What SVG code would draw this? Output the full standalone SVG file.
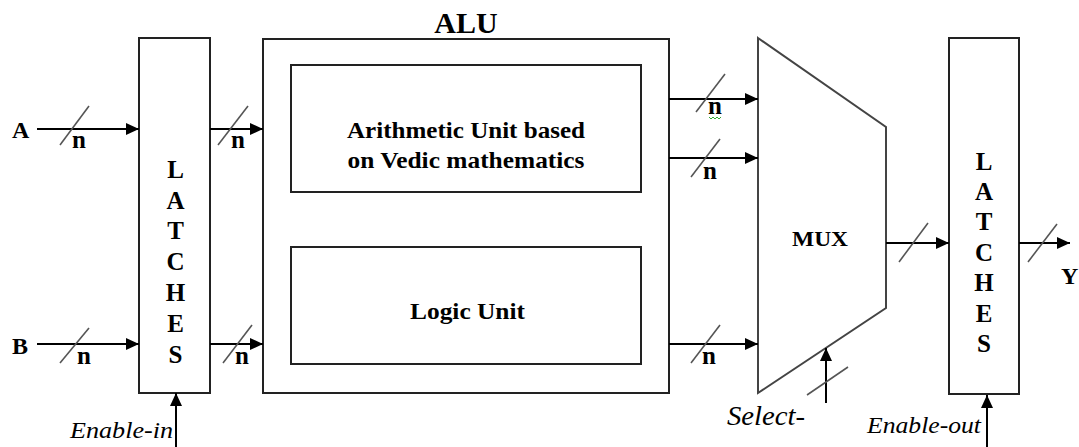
<svg xmlns="http://www.w3.org/2000/svg" width="1079" height="447" viewBox="0 0 1079 447">
<defs>
<marker id="ah" markerUnits="userSpaceOnUse" markerWidth="14" markerHeight="12" refX="13" refY="6" orient="auto">
<path d="M0,0 L13,6 L0,12 z" fill="#000"/>
</marker>
<style>
.box{fill:#fff;stroke:#222;stroke-width:2}
.mux{fill:#fff;stroke:#444;stroke-width:2}
.wire{stroke:#000;stroke-width:2;fill:none}
.sl{stroke:#555;stroke-width:1.6;fill:none}
.b{font-family:"Liberation Serif","Times New Roman",Times,serif;font-weight:bold;fill:#000}
.lt{font-family:"Liberation Serif","Times New Roman",Times,serif;font-weight:bold;font-size:25px;text-anchor:middle;fill:#000}
.n{font-family:"Liberation Serif","Times New Roman",Times,serif;font-weight:bold;font-size:25px;fill:#000}
.it{font-family:"Liberation Serif","Times New Roman",Times,serif;font-style:italic;fill:#000}
</style>
</defs>
<rect width="1079" height="447" fill="#fff"/>

<g id="latch-in">
<rect class="box" x="139" y="38" width="71" height="355"/>
<text class="lt" x="175.5" y="178">L</text>
<text class="lt" x="175.5" y="209">A</text>
<text class="lt" x="175.5" y="239">T</text>
<text class="lt" x="175.5" y="270">C</text>
<text class="lt" x="175.5" y="301">H</text>
<text class="lt" x="175.5" y="332">E</text>
<text class="lt" x="175.5" y="363">S</text>
</g>

<g id="alu">
<rect class="box" x="263" y="39" width="406" height="354"/>
<text class="b" x="466" y="33" font-size="30" text-anchor="middle">ALU</text>
</g>

<g id="arith">
<rect class="box" x="291" y="65" width="350" height="127"/>
<text class="b" x="466" y="138" font-size="23" text-anchor="middle" textLength="238" lengthAdjust="spacingAndGlyphs">Arithmetic Unit based</text>
<text class="b" x="466" y="168" font-size="23" text-anchor="middle" textLength="237" lengthAdjust="spacingAndGlyphs">on Vedic mathematics</text>
</g>

<g id="logic">
<rect class="box" x="291" y="247" width="350" height="117"/>
<text class="b" x="467.5" y="319" font-size="23" text-anchor="middle" textLength="115" lengthAdjust="spacingAndGlyphs">Logic Unit</text>
</g>

<g id="mux">
<polygon class="mux" points="758,38 886,127 886,308 758,393"/>
<text class="b" x="820" y="246" font-size="20" text-anchor="middle" textLength="56" lengthAdjust="spacingAndGlyphs">MUX</text>
</g>

<g id="latch-out">
<rect class="box" x="949" y="38" width="70" height="356"/>
<text class="lt" x="984" y="170">L</text>
<text class="lt" x="984" y="200">A</text>
<text class="lt" x="984" y="230">T</text>
<text class="lt" x="984" y="261">C</text>
<text class="lt" x="984" y="291">H</text>
<text class="lt" x="984" y="322">E</text>
<text class="lt" x="984" y="352">S</text>
</g>

<g id="labels">
<text class="b" x="12" y="138" font-size="24">A</text>
<text class="b" x="12" y="354" font-size="24">B</text>
<text class="b" x="1061" y="284" font-size="24">Y</text>
<text class="it" x="70" y="438" font-size="23" textLength="103" lengthAdjust="spacingAndGlyphs">Enable-in</text>
<text class="it" x="727" y="425" font-size="28" textLength="78" lengthAdjust="spacingAndGlyphs">Select-</text>
<text class="it" x="867" y="433" font-size="23" textLength="114" lengthAdjust="spacingAndGlyphs">Enable-out</text>
</g>

<g id="connectors">
<line class="wire" x1="37" y1="129" x2="139" y2="129" marker-end="url(#ah)"/>
<line class="wire" x1="210" y1="129" x2="263" y2="129" marker-end="url(#ah)"/>
<line class="wire" x1="37" y1="344" x2="139" y2="344" marker-end="url(#ah)"/>
<line class="wire" x1="210" y1="344" x2="263" y2="344" marker-end="url(#ah)"/>
<line class="wire" x1="176" y1="447" x2="176" y2="393" marker-end="url(#ah)"/>
<line class="wire" x1="669" y1="99" x2="758" y2="99" marker-end="url(#ah)"/>
<line class="wire" x1="669" y1="158" x2="758" y2="158" marker-end="url(#ah)"/>
<line class="wire" x1="669" y1="344" x2="758" y2="344" marker-end="url(#ah)"/>
<line class="wire" x1="826" y1="403" x2="826" y2="348" marker-end="url(#ah)"/>
<line class="wire" x1="886" y1="243" x2="949" y2="243" marker-end="url(#ah)"/>
<line class="wire" x1="1019" y1="243" x2="1070" y2="243" marker-end="url(#ah)"/>
<line class="wire" x1="987" y1="447" x2="987" y2="395" marker-end="url(#ah)"/>

<line class="sl" x1="60" y1="145" x2="89" y2="106"/>
<line class="sl" x1="218" y1="145" x2="248" y2="106"/>
<line class="sl" x1="60" y1="363" x2="89" y2="328"/>
<line class="sl" x1="223" y1="363" x2="252" y2="325"/>
<line class="sl" x1="696" y1="112" x2="725" y2="74"/>
<line class="sl" x1="691" y1="177" x2="720" y2="139"/>
<line class="sl" x1="691" y1="363" x2="720" y2="325"/>
<line class="sl" x1="807" y1="395" x2="848" y2="367"/>
<line class="sl" x1="899" y1="262" x2="928" y2="223"/>
<line class="sl" x1="1028" y1="262" x2="1057" y2="224"/>

<text class="n" x="72" y="148">n</text>
<text class="n" x="231" y="148">n</text>
<text class="n" x="77" y="364">n</text>
<text class="n" x="235" y="364">n</text>
<text class="n" x="708" y="114">n</text>
<text class="n" x="703" y="179">n</text>
<text class="n" x="702" y="364">n</text>
<path d="M709,117 l2,2 l2,-2 l2,2 l2,-2 l2,2 l2,-2" stroke="#3a3" stroke-width="1" fill="none"/>
</g>
</svg>
